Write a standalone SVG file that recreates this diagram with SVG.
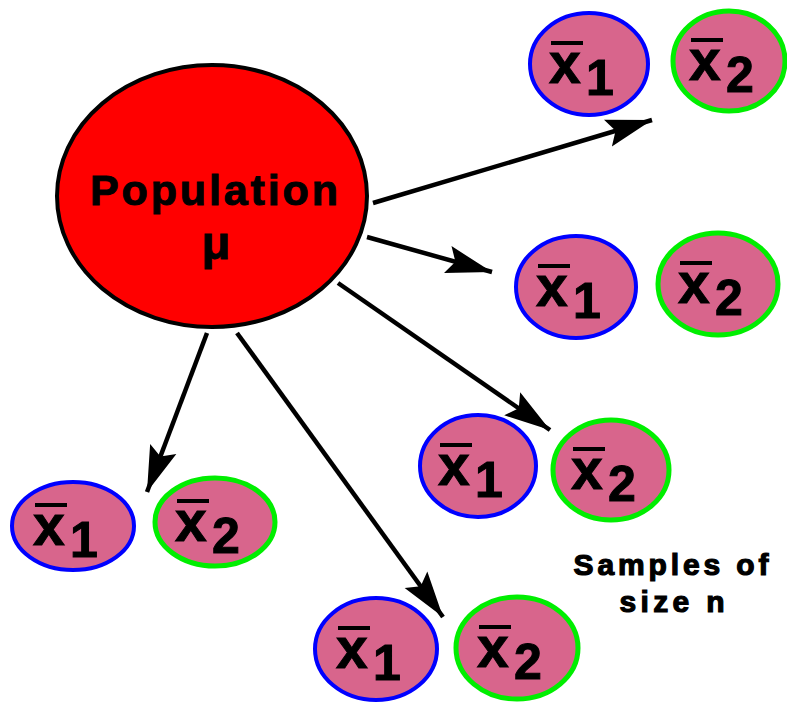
<svg xmlns="http://www.w3.org/2000/svg" width="787" height="708" viewBox="0 0 787 708">
<style>
.pop{fill:#ff0000;stroke:#000;stroke-width:4}
.s1{fill:#d8658c;stroke:#0000ff;stroke-width:4}
.s2{fill:#d8658c;stroke:#00ee00;stroke-width:5}
.big{font-family:"Liberation Sans",Arial,sans-serif;font-weight:bold;fill:#000;stroke:#000;stroke-width:1}
.xl{font-size:57px}
.sub{font-size:50px}
.bar{fill:#000}
.conn line{stroke:#000;stroke-width:4.5;fill:none}
.note{font-family:"Liberation Sans",Arial,sans-serif;font-weight:bold;font-size:30px;fill:#000;stroke:#000;stroke-width:1.2}
</style>
<defs>
<marker id="ah" markerUnits="userSpaceOnUse" markerWidth="48" markerHeight="32" viewBox="-46 -16 48 32" refX="0" refY="0" orient="auto">
<path d="M0,0 L-46,-14 L-38,0 L-46,14 Z" fill="#000"/>
</marker>
<g id="x1c">
<rect class="bar" x="-38" y="-23" width="32" height="4"/>
<text class="big xl" x="-40" y="19">x</text>
<text class="big sub" x="-3" y="31">1</text>
</g>
<g id="x2c">
<rect class="bar" x="-38" y="-23" width="32" height="4"/>
<text class="big xl" x="-40" y="19">x</text>
<text class="big sub" x="-3" y="31">2</text>
</g>
</defs>
<rect width="787" height="708" fill="#fff"/>

<g class="conn" id="connectors">
<line x1="373" y1="203" x2="652" y2="120" marker-end="url(#ah)"/>
<line x1="367" y1="237" x2="492" y2="272" marker-end="url(#ah)"/>
<line x1="338" y1="283" x2="550" y2="430" marker-end="url(#ah)"/>
<line x1="207" y1="333" x2="147" y2="492" marker-end="url(#ah)"/>
<line x1="237" y1="333" x2="443" y2="617" marker-end="url(#ah)"/>
</g>

<g id="population">
<ellipse class="pop" cx="212" cy="196" rx="155" ry="131"/>
<text class="big" x="214" y="205" font-size="43" text-anchor="middle" textLength="248" lengthAdjust="spacing">Population</text>
<text class="big" x="216" y="259" font-size="47" text-anchor="middle" stroke-width="0">μ</text>
</g>

<g id="s1a" transform="translate(589,64)"><ellipse class="s1" cx="0" cy="0" rx="59" ry="51"/><use href="#x1c"/></g>
<g id="s1b" transform="translate(729,61)"><ellipse class="s2" cx="0" cy="0" rx="56" ry="50"/><use href="#x2c"/></g>

<g id="s2a" transform="translate(576,287)"><ellipse class="s1" cx="0" cy="0" rx="60" ry="51"/><use href="#x1c"/></g>
<g id="s2b" transform="translate(718,284)"><ellipse class="s2" cx="0" cy="0" rx="60" ry="51"/><use href="#x2c"/></g>

<g id="s3a" transform="translate(478,466)"><ellipse class="s1" cx="0" cy="0" rx="58" ry="51"/><use href="#x1c"/></g>
<g id="s3b" transform="translate(611,470)"><ellipse class="s2" cx="0" cy="0" rx="58" ry="50"/><use href="#x2c"/></g>

<g id="s4a" transform="translate(73,526)"><ellipse class="s1" cx="0" cy="0" rx="61" ry="44"/><use href="#x1c"/></g>
<g id="s4b" transform="translate(215,522)"><ellipse class="s2" cx="0" cy="0" rx="60" ry="44"/><use href="#x2c"/></g>

<g id="s5a" transform="translate(376,649)"><ellipse class="s1" cx="0" cy="0" rx="61" ry="51"/><use href="#x1c"/></g>
<g id="s5b" transform="translate(517,648)"><ellipse class="s2" cx="0" cy="0" rx="61" ry="51"/><use href="#x2c"/></g>

<g id="note">
<text class="note" x="671" y="575" text-anchor="middle" textLength="195" lengthAdjust="spacing">Samples of</text>
<text class="note" x="672" y="612" text-anchor="middle" textLength="105" lengthAdjust="spacing">size n</text>
</g>
</svg>
